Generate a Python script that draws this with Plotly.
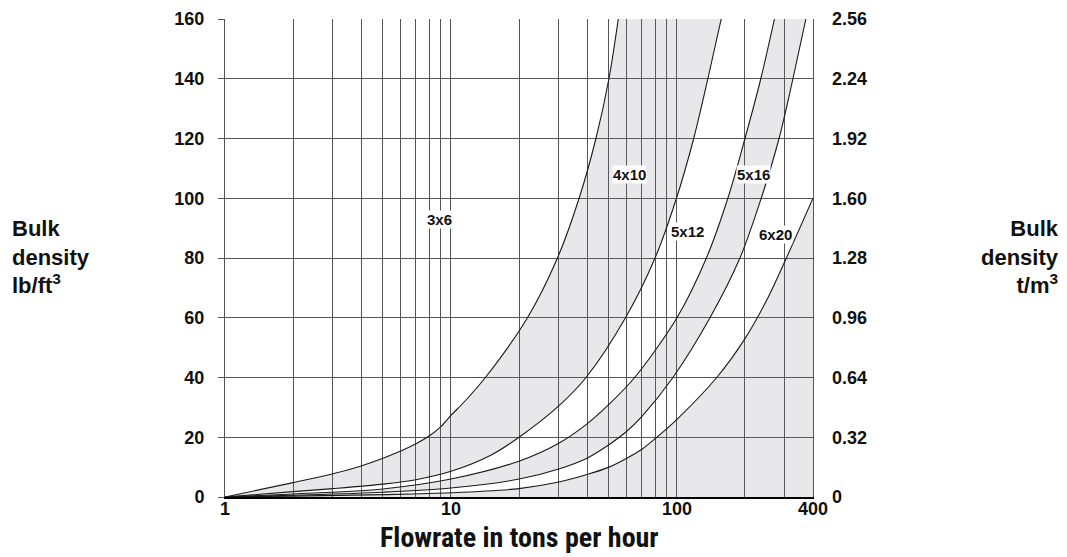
import numpy as np
import plotly.graph_objects as go

# ---- data (flowrate t/h vs bulk density lb/ft3) ----
x_A = [1, 2, 3, 4, 5, 6, 7, 8, 9, 10, 11.6, 14.2, 21.8, 29.6, 36.9, 43.8, 50, 55]
y_A = [0, 4.8, 7.8, 10.4, 13, 15.4, 17.8, 20.4, 23.5, 27.3, 32.3, 40, 60, 80, 100, 120, 140, 160]

x_B = [1, 2, 3, 5, 7, 10, 15, 20, 30, 39.6, 59.2, 80, 99.5, 118.6, 137, 157]
y_B = [0, 1.8, 2.8, 4.3, 5.8, 8.6, 14, 20, 30.5, 40, 60, 80, 100, 120, 140, 160]

x_C = [1, 2, 5, 10, 20, 30, 40, 50, 65, 100, 135, 168, 200, 235, 270]
y_C = [0, 1, 2.7, 6, 12, 18, 24.5, 31, 40, 60, 80, 100, 120, 140, 160]

x_D = [1, 2, 5, 10, 20, 30, 40, 50, 60, 70, 96, 140, 190, 236, 283, 326, 372]
y_D = [0, 0.6, 1.6, 3, 6, 9.4, 13, 17.5, 22, 27, 40, 60, 80, 100, 120, 140, 160]

x_E = [1, 2, 5, 10, 20, 30, 40, 50, 60, 70, 80, 100, 150, 200, 250, 305, 400]
y_E = [0, 0.3, 0.8, 1.4, 2.8, 5, 7.5, 10, 13, 16, 19.5, 26, 40, 53, 66, 80, 100]

model_labels = ["3x6", "4x10", "5x12", "5x16", "6x20"]
label_x = [8.9, 61.6, 111, 219, 274]
label_y = [93, 108, 89, 108, 88]

x_ticks = [1, 10, 100, 400]
x_ticktext = ["1", "10", "100", "400"]
x_minor = [2, 3, 4, 5, 6, 7, 8, 9, 20, 30, 40, 50, 60, 70, 80, 90, 200, 300]
y_ticks = [0, 20, 40, 60, 80, 100, 120, 140, 160]
y2_ticks = [0, 0.32, 0.64, 0.96, 1.28, 1.60, 1.92, 2.24, 2.56]
y2_ticktext = ["0", "0.32", "0.64", "0.96", "1.28", "1.60", "1.92", "2.24", "2.56"]

# ---- style ----
GRID = "#555555"
FILL = "rgba(110,110,125,0.16)"
FONT = "Liberation Sans, Arial, sans-serif"
NARROW = "Liberation Sans Narrow, Roboto Condensed, Liberation Sans, Arial, sans-serif"
line = dict(color="#1a1a1a", width=1.1, shape="spline", smoothing=0.9)
TICKFONT = dict(family=FONT, size=18, color="#111", weight="bold")

fig = go.Figure()
fig.add_trace(go.Scatter(x=x_A, y=y_A, mode="lines", line=line, hoverinfo="skip"))
fig.add_trace(go.Scatter(x=x_B, y=y_B, mode="lines", line=line, fill="tonexty",
                         fillcolor=FILL, hoverinfo="skip"))
fig.add_trace(go.Scatter(x=x_C, y=y_C, mode="lines", line=line, hoverinfo="skip"))
fig.add_trace(go.Scatter(x=x_D, y=y_D, mode="lines", line=line, fill="tonexty",
                         fillcolor=FILL, hoverinfo="skip"))
fig.add_trace(go.Scatter(x=x_E, y=y_E, mode="lines", line=line, fill="tozeroy",
                         fillcolor=FILL, hoverinfo="skip"))
# carrier for the right (metric) axis
fig.add_trace(go.Scatter(x=[x_ticks[0], x_ticks[-1]], y=[y2_ticks[0], y2_ticks[-1]],
                         yaxis="y2", mode="markers", marker=dict(opacity=0),
                         hoverinfo="skip"))

for t, lx, ly in zip(model_labels, label_x, label_y):
    fig.add_annotation(x=np.log10(lx), y=ly, text=t, showarrow=False,
                       font=dict(family=FONT, size=15, color="#111", weight="bold"),
                       bgcolor="white", borderpad=0)

fig.add_annotation(xref="paper", yref="paper", x=-0.3656, y=0.502, xanchor="left",
                   yanchor="middle", align="left", showarrow=False,
                   text="Bulk<br>density<br>lb/ft<sup>3</sup>",
                   font=dict(family=FONT, size=22, color="#111", weight="bold"))
fig.add_annotation(xref="paper", yref="paper", x=1.421, y=0.502, xanchor="right",
                   yanchor="middle", align="right", showarrow=False,
                   text="Bulk<br>density<br>t/m<sup>3</sup>",
                   font=dict(family=FONT, size=22, color="#111", weight="bold"))
fig.add_annotation(xref="paper", yref="paper", x=0.5, y=-0.084, xanchor="center",
                   yanchor="middle", showarrow=False,
                   text="Flowrate in tons per hour",
                   font=dict(family=NARROW, size=28, color="#111", weight="bold"))

fig.update_layout(
    width=1051, height=549,
    margin=dict(l=217, r=246, t=11, b=60, autoexpand=False),
    paper_bgcolor="white", plot_bgcolor="white",
    showlegend=False,
    xaxis=dict(type="log", range=[0, np.log10(400)], tickvals=x_ticks,
               ticktext=x_ticktext, showgrid=True, gridcolor=GRID, gridwidth=1,
               minor=dict(tickvals=x_minor, showgrid=True, gridcolor=GRID,
                          gridwidth=1, ticks=""),
               ticks="", showline=True, linecolor="black", linewidth=2,
               ticklabelstandoff=-6, automargin=False,
               tickfont=TICKFONT, zeroline=False),
    yaxis=dict(range=[0, 160], tickvals=y_ticks, showgrid=True, gridcolor=GRID,
               gridwidth=1, ticks="outside", ticklen=6, tickcolor=GRID,
               showline=True, mirror=True, linecolor=GRID, linewidth=1,
               ticklabelstandoff=10, zeroline=False, automargin=False,
               tickfont=TICKFONT),
    yaxis2=dict(range=[0, 2.56], overlaying="y", side="right", tickvals=y2_ticks,
                ticktext=y2_ticktext, showgrid=False, zeroline=False, ticks="",
                ticklabelstandoff=18, automargin=False,
                tickfont=TICKFONT),
)

fig.write_html("out.html")
